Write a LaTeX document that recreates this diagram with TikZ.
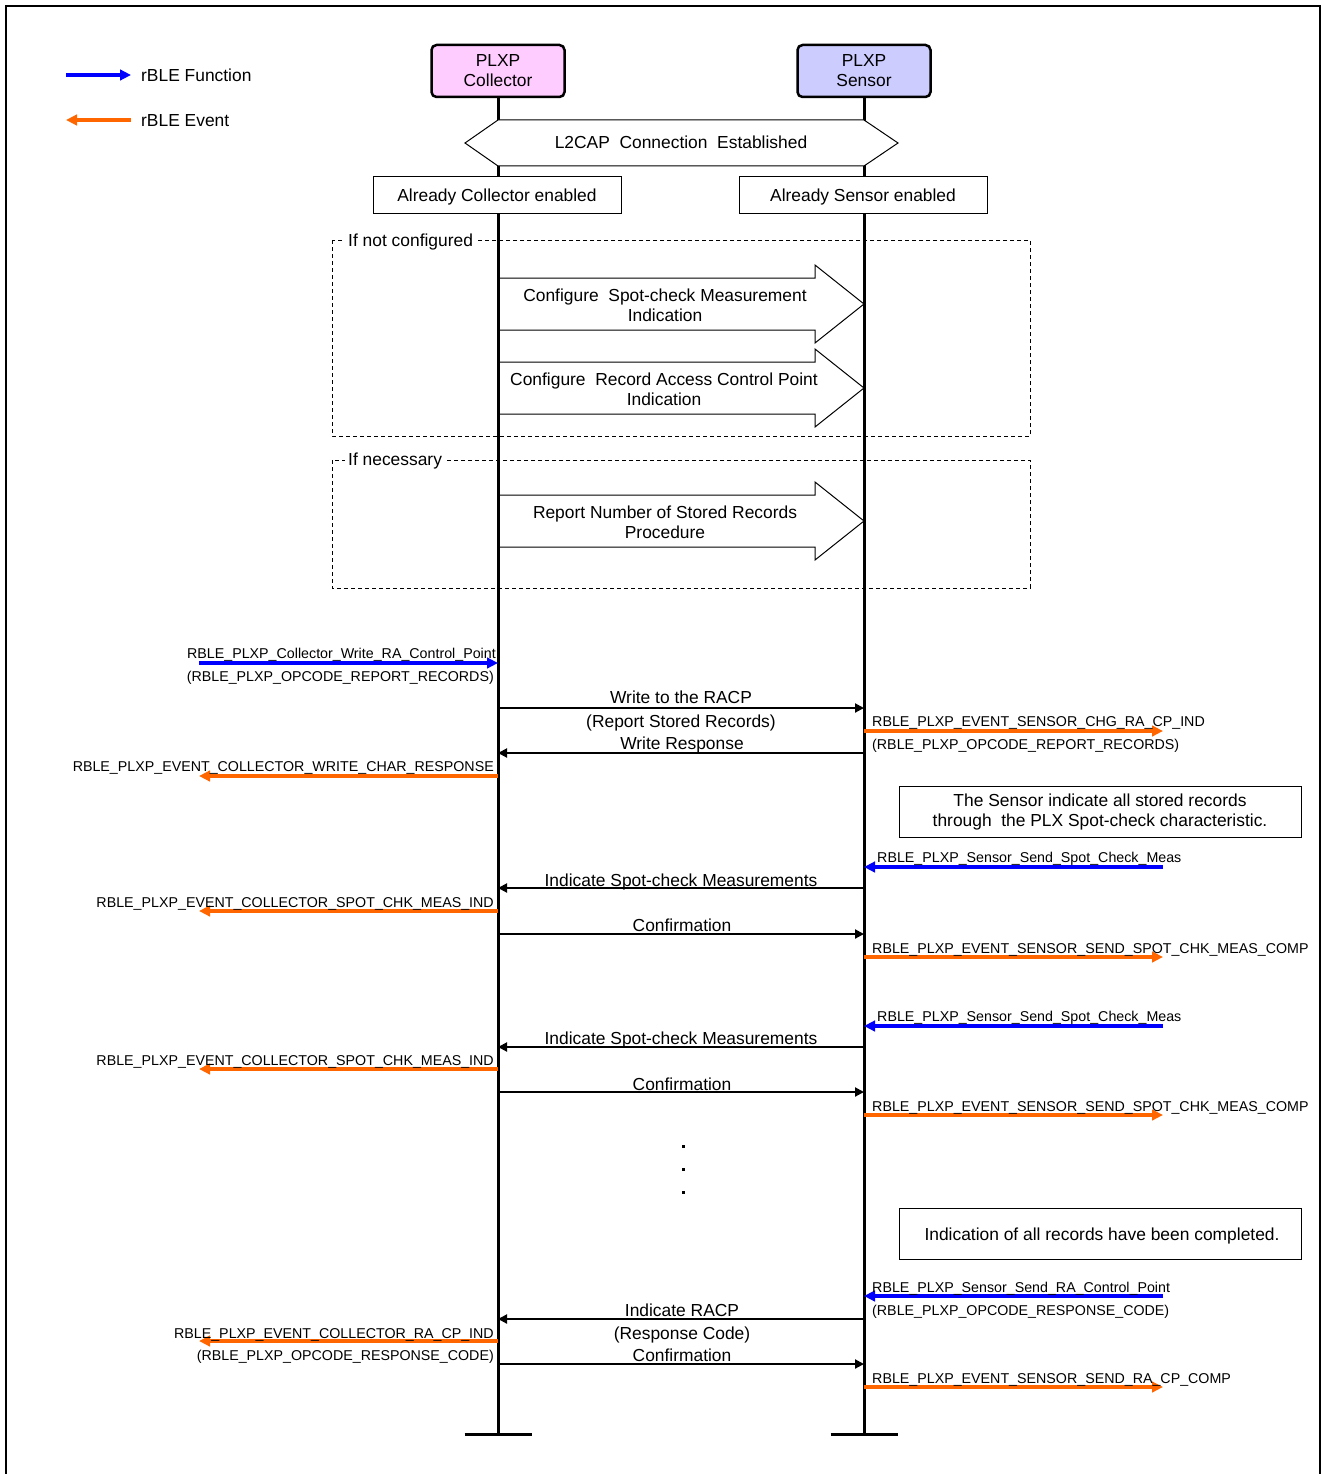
\documentclass[tikz,border=0pt]{standalone}
\usepackage{fontspec}
\setmainfont{Liberation Sans}
\usetikzlibrary{arrows.meta}
\definecolor{evt}{HTML}{FF6600}
\definecolor{fnc}{HTML}{0000FF}
\definecolor{colfill}{HTML}{FFCCFF}
\definecolor{senfill}{HTML}{CCCCFF}

\begin{document}
\begin{tikzpicture}[x=1pt,y=-1pt,
  every node/.style={inner sep=0pt},
  big/.style={font=\fontsize{17.4}{20}\selectfont},
  small/.style={font=\fontsize{14.25}{17}\selectfont},
  headbox/.style={draw,line width=2.5pt,rounded corners=5pt,minimum width=133pt,minimum height=52pt,align=center,big},
  statebox/.style={draw,line width=1pt,fill=white,minimum width=248pt,minimum height=36pt,big},
  notebox/.style={draw,line width=1pt,fill=white,minimum width=402pt,minimum height=51pt,align=center,big},
  life/.style={line width=3pt},
  endbar/.style={line width=3pt},
  msg/.style={line width=2pt,-{Triangle[length=9pt,width=9pt]}},
  fn/.style={line width=3.5pt,fnc,-{Triangle[length=11pt,width=10.5pt]}},
  ev/.style={line width=3.5pt,evt,-{Triangle[length=11pt,width=10.5pt]}},
  grpframe/.style={draw,line width=1pt,dash pattern=on 4pt off 3pt},
  flabel/.style={fill=white,inner xsep=3pt,inner ysep=1pt,big,anchor=west},
  blockarrow/.style={draw,line width=1pt},
  lbl/.style={big,anchor=base},
  rl/.style={small,anchor=base east},
  ll/.style={small,anchor=base west}
]
\useasboundingbox (0,0) rectangle (1323,1474);
\draw[line width=2pt] (6,6) rectangle (1320,1490);

% legend
\coordinate (lgfa) at (66,75);  \coordinate (lgfb) at (131,75);
\coordinate (lgea) at (131,120); \coordinate (lgeb) at (66,120);
\draw[fn] (lgfa) -- (lgfb);
\draw[ev] (lgea) -- (lgeb);
\node[big,anchor=west] (lgf) at (141,75) {rBLE Function};
\node[big,anchor=west] (lge) at (141,121) {rBLE Event};

% participants and lifelines
\node[headbox,fill=colfill] (col) at (498,71) {PLXP\\Collector};
\node[headbox,fill=senfill] (sen) at (864,71) {PLXP\\Sensor};
\coordinate (colend) at (498,1434);
\coordinate (senend) at (864,1434);
\draw[life] (col.south) -- (colend);
\draw[life] (sen.south) -- (senend);
\draw[endbar] ([xshift=-33.5pt]colend) -- ([xshift=33.5pt]colend);
\draw[endbar] ([xshift=-33.5pt]senend) -- ([xshift=33.5pt]senend);

% connection state
\draw[line width=1pt,fill=white] (465,143) -- (498,120) -- (864,120) -- (898,143) -- (864,166) -- (498,166) -- cycle;
\node[big,anchor=base] (l2cap) at (681,149) {L2CAP\ \ Connection\ \ Established};
\draw[line width=1pt,fill=white] (373,177) rectangle (621,213);
\draw[line width=1pt,fill=white] (739,177) rectangle (987,213);
\node[big,anchor=base] (colon) at (497,201) {Already Collector enabled};
\node[big,anchor=base] (senon) at (863,201) {Already Sensor enabled};

% optional groups
\draw[grpframe] (332,240) rectangle (1030,436);
\node[flabel] (grp1) at (345,242) {If not configured};
\draw[grpframe] (332,460) rectangle (1030,588);
\node[flabel] (grp2) at (345,461) {If necessary};

% procedure block arrows
\newcommand\procarrow[1]{%
  \draw[blockarrow] (498,#1-26) -- (815,#1-26) -- (815,#1-39) -- (864,#1)
     -- (815,#1+39) -- (815,#1+26) -- (498,#1+26);}
\procarrow{304}
\procarrow{388}
\procarrow{521}
\node[big,align=center] (pa1) at (665,305) {Configure\ \ Spot-check Measurement\\Indication};
\node[big,align=center] (pa2) at (664,389) {Configure\ \ Record Access Control Point\\Indication};
\node[big,align=center] (pa3) at (665,522) {Report Number of Stored Records\\Procedure};

% write RACP
\coordinate (f1) at (199,663);
\draw[fn] (f1) -- (col.south |- f1);
\node[rl] (t1) at (496,658) {RBLE\_PLXP\_Collector\_Write\_RA\_Control\_Point};
\node[rl] (t1b) at (494,681) {(RBLE\_PLXP\_OPCODE\_REPORT\_RECORDS)};

\draw[msg] (col.south |- 0,708) -- (sen.south |- 0,708);
\node[lbl] (m1) at (681,703) {Write to the RACP};
\node[lbl] (m1b) at (681,727) {(Report Stored Records)};

\coordinate (e1) at (1163,731);
\draw[ev] (sen.south |- e1) -- (e1);
\node[ll] (t2) at (872,726) {RBLE\_PLXP\_EVENT\_SENSOR\_CHG\_RA\_CP\_IND};
\node[ll] (t2b) at (872,749) {(RBLE\_PLXP\_OPCODE\_REPORT\_RECORDS)};

\draw[msg] (sen.south |- 0,753) -- (col.south |- 0,753);
\node[lbl] (m2) at (682,749) {Write Response};

\coordinate (e2) at (199,776);
\draw[ev] (col.south |- e2) -- (e2);
\node[rl] (t3) at (494,771) {RBLE\_PLXP\_EVENT\_COLLECTOR\_WRITE\_CHAR\_RESPONSE};

\node[notebox] (n1) at (1100,812) {The Sensor indicate all stored records\\through\ \ the PLX Spot-check characteristic.};

% first record
\coordinate (f2) at (1163,867);
\draw[fn] (f2) -- (sen.south |- f2);
\node[ll] (t4) at (877,862) {RBLE\_PLXP\_Sensor\_Send\_Spot\_Check\_Meas};

\draw[msg] (sen.south |- 0,888) -- (col.south |- 0,888);
\node[lbl] (m3) at (681,886) {Indicate Spot-check Measurements};

\coordinate (e3) at (199,911);
\draw[ev] (col.south |- e3) -- (e3);
\node[rl] (t5) at (494,907) {RBLE\_PLXP\_EVENT\_COLLECTOR\_SPOT\_CHK\_MEAS\_IND};

\draw[msg] (col.south |- 0,934) -- (sen.south |- 0,934);
\node[lbl] (m4) at (682,931) {Confirmation};

\coordinate (e4) at (1163,957);
\draw[ev] (sen.south |- e4) -- (e4);
\node[ll] (t6) at (872,953) {RBLE\_PLXP\_EVENT\_SENSOR\_SEND\_SPOT\_CHK\_MEAS\_COMP};

% second record
\coordinate (f3) at (1163,1026);
\draw[fn] (f3) -- (sen.south |- f3);
\node[ll] (t7) at (877,1021) {RBLE\_PLXP\_Sensor\_Send\_Spot\_Check\_Meas};

\draw[msg] (sen.south |- 0,1047) -- (col.south |- 0,1047);
\node[lbl] (m5) at (681,1044) {Indicate Spot-check Measurements};

\coordinate (e5) at (199,1069);
\draw[ev] (col.south |- e5) -- (e5);
\node[rl] (t8) at (494,1065) {RBLE\_PLXP\_EVENT\_COLLECTOR\_SPOT\_CHK\_MEAS\_IND};

\draw[msg] (col.south |- 0,1092) -- (sen.south |- 0,1092);
\node[lbl] (m6) at (682,1090) {Confirmation};

\coordinate (e6) at (1163,1115);
\draw[ev] (sen.south |- e6) -- (e6);
\node[ll] (t9) at (872,1111) {RBLE\_PLXP\_EVENT\_SENSOR\_SEND\_SPOT\_CHK\_MEAS\_COMP};

% continuation dots
\fill (681.5,1144.5) rectangle +(3,3);
\fill (681.5,1167.5) rectangle +(3,3);
\fill (681.5,1190.5) rectangle +(3,3);

\node[notebox] (n2) at (1100,1234) {};
\node[big,anchor=base] (n2t) at (1102,1240) {Indication of all records have been completed.};

% response code
\coordinate (f4) at (1163,1296);
\draw[fn] (f4) -- (sen.south |- f4);
\node[ll] (t10) at (872,1292) {RBLE\_PLXP\_Sensor\_Send\_RA\_Control\_Point};
\node[ll] (t10b) at (872,1315) {(RBLE\_PLXP\_OPCODE\_RESPONSE\_CODE)};

\draw[msg] (sen.south |- 0,1319) -- (col.south |- 0,1319);
\node[lbl] (m7) at (682,1316) {Indicate RACP};
\node[lbl] (m7b) at (682,1339) {(Response Code)};

\coordinate (e7) at (199,1341);
\draw[ev] (col.south |- e7) -- (e7);
\node[rl] (t11) at (494,1338) {RBLE\_PLXP\_EVENT\_COLLECTOR\_RA\_CP\_IND};
\node[rl] (t11b) at (494,1360) {(RBLE\_PLXP\_OPCODE\_RESPONSE\_CODE)};

\draw[msg] (col.south |- 0,1364) -- (sen.south |- 0,1364);
\node[lbl] (m8) at (682,1361) {Confirmation};

\coordinate (e8) at (1163,1387);
\draw[ev] (sen.south |- e8) -- (e8);
\node[ll] (t12) at (872,1383) {RBLE\_PLXP\_EVENT\_SENSOR\_SEND\_RA\_CP\_COMP};
\end{tikzpicture}
\end{document}
